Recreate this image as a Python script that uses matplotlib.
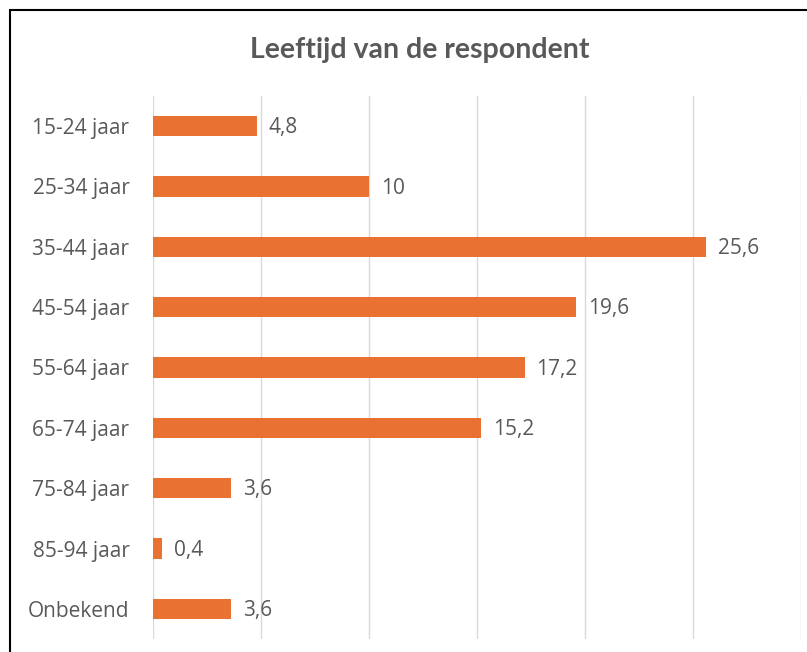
import matplotlib
matplotlib.use('Agg')
import matplotlib.pyplot as plt
from matplotlib.patches import Rectangle

# data
categories = ['15-24 jaar', '25-34 jaar', '35-44 jaar', '45-54 jaar', '55-64 jaar',
              '65-74 jaar', '75-84 jaar', '85-94 jaar', 'Onbekend']
values = [4.8, 10, 25.6, 19.6, 17.2, 15.2, 3.6, 0.4, 3.6]
labels = ['4,8', '10', '25,6', '19,6', '17,2', '15,2', '3,6', '0,4', '3,6']

plt.rcParams['font.family'] = ['Open Sans', 'DejaVu Sans']
orange = '#E97132'
grey = '#595959'

fig = plt.figure(figsize=(8.07, 6.52), dpi=100)
ax = fig.add_axes([153 / 807, 1 - 639 / 652, (801 - 153) / 807, (639 - 96) / 652])

pos = list(range(len(categories)))
ax.barh(pos, values, height=0.34, color=orange, zorder=3)
for p, v, t in zip(pos, values, labels):
    ax.text(v + 0.55, p + 0.03, t, va='center', ha='left', fontsize=15, color=grey)

ax.set_xlim(0, 30)
ax.set_ylim(len(categories) - 0.5, -0.5)
ax.set_xticks([0, 5, 10, 15, 20, 25, 30])
ax.set_xticklabels([])
ax.set_yticks(pos)
ax.set_yticklabels(categories, fontsize=15, color=grey)
ax.tick_params(axis='both', length=0)
ax.tick_params(axis='y', pad=17)
ax.grid(axis='x', color='#D9D9D9', linewidth=1, zorder=0)
for s in ax.spines.values():
    s.set_visible(False)

fig.text(420 / 807, 1 - 50 / 652, 'Leeftijd van de respondent', ha='center', va='center',
         fontsize=20.5, fontweight='bold', color=grey, family=['Lato', 'DejaVu Sans'])

# black frame (cropped screenshot, only left and top edges visible)
fig.add_artist(Rectangle((10 / 807, -0.05), 1.0, 1 - 10 / 652 + 0.05,
                         transform=fig.transFigure, fill=False,
                         edgecolor='black', linewidth=1.5))

fig.savefig('out.png', dpi=100)
